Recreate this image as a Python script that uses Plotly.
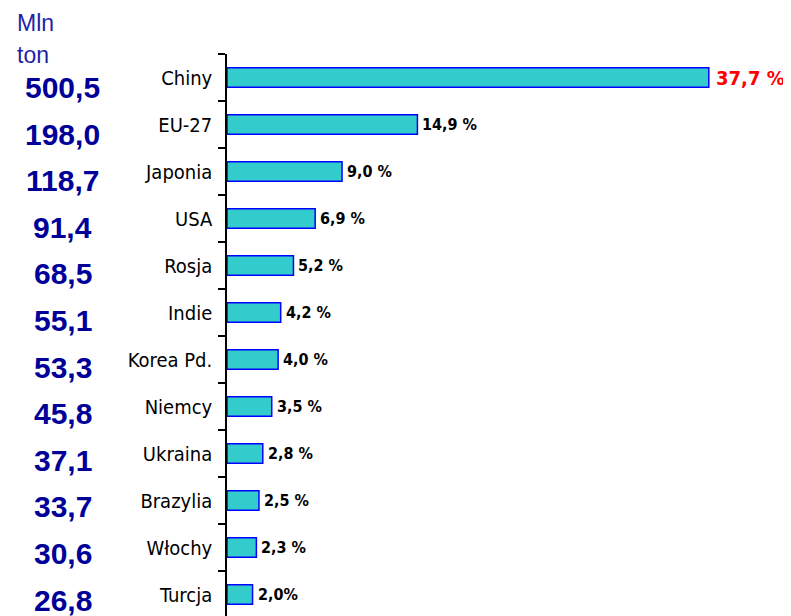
import plotly.graph_objects as go

# Dane: produkcja (mln ton) i udział w świecie (%)
countries = ["Chiny", "EU-27", "Japonia", "USA", "Rosja", "Indie", "Korea Pd.",
             "Niemcy", "Ukraina", "Brazylia", "Włochy", "Turcja"]
production = ["500,5", "198,0", "118,7", "91,4", "68,5", "55,1", "53,3",
              "45,8", "37,1", "33,7", "30,6", "26,8"]
share = [37.7, 14.9, 9.0, 6.9, 5.2, 4.2, 4.0, 3.5, 2.8, 2.5, 2.3, 2.0]
share_labels = ["37,7 %", "14,9 %", "9,0 %", "6,9 %", "5,2 %", "4,2 %", "4,0 %",
                "3,5 %", "2,8 %", "2,5 %", "2,3 %", "2,0%"]

NARROW = "DejaVu Sans Condensed, Liberation Sans Narrow, sans-serif"
ARIAL = "Liberation Sans, Arial, sans-serif"

# strona ma 8 px marginesu, więc figura jest o tyle mniejsza
W, H = 783, 608
L, T = 219, 46
PW, PH = W - L, H - T

fig = go.Figure()

fig.add_trace(go.Bar(
    x=share,
    y=countries,
    orientation="h",
    marker=dict(color="#33CCCC", line=dict(color="#0000FF", width=1.5)),
    width=0.42,
    hoverinfo="skip",
))

# etykiety procentowe przy słupkach
for i, (c, v, lab) in enumerate(zip(countries, share, share_labels)):
    top = i == 0
    fig.add_annotation(
        x=v, y=c, xref="x", yref="y",
        text="<b>" + lab + "</b>", showarrow=False,
        xanchor="left", xshift=3 if not top else 5,
        font=dict(family=NARROW, size=20 if top else 16,
                  color="#FF0000" if top else "#000000"),
    )

# wartości produkcji po lewej stronie (kolumna nieco gęstsza niż słupki)
n = len(countries)
for i, (c, p) in enumerate(zip(countries, production)):
    fig.add_annotation(
        x=(54.5 - L) / PW, y=c, xref="paper", yref="y",
        text="<b>" + p + "</b>", showarrow=False,
        xanchor="center", yshift=-10 + 4.5 * i / (n - 1),
        font=dict(family=ARIAL, size=30, color="#000099"),
    )

# "Mln ton" w lewym górnym rogu
for txt, ypx in [("Mln", 15), ("ton", 47)]:
    fig.add_annotation(
        x=(7 - L) / PW, y=1 + (T - ypx) / PH, xref="paper", yref="paper",
        text=txt, showarrow=False, xanchor="left", yanchor="middle",
        font=dict(family=ARIAL, size=23, color="#1F1FA8"),
    )

fig.update_layout(
    width=W, height=H,
    margin=dict(l=L, r=0, t=T, b=0),
    plot_bgcolor="white", paper_bgcolor="white",
    showlegend=False,
    xaxis=dict(range=[0, PW / 12.78], visible=False),
    yaxis=dict(
        type="category",
        range=[-0.5 + PH / 47, -0.5],
        showline=True, linecolor="#000000", linewidth=1.5,
        ticks="outside", ticklen=7, tickcolor="#000000", tickwidth=1.5,
        tickson="boundaries",
        showgrid=False, zeroline=False,
        ticklabelstandoff=9,
        tickfont=dict(family=NARROW, size=20, color="#000000"),
    ),
)

fig.write_html("out.html")
